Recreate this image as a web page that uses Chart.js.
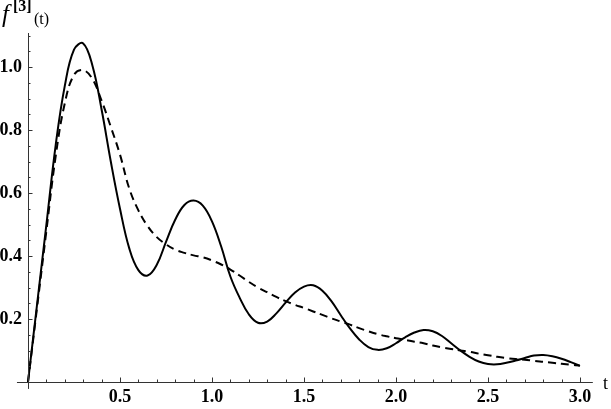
<!DOCTYPE html>
<html>
<head>
<meta charset="utf-8">
<script src="https://cdn.jsdelivr.net/npm/chart.js@4.4.1/dist/chart.umd.min.js"></script>
<style>
  body { margin: 0; background: #fff; }
  #wrap { position: relative; width: 611px; height: 409px; }
  .lbl { position: absolute; font-family: "Liberation Serif", "DejaVu Serif", serif; color: #000; line-height: 1; white-space: nowrap; }
</style>
</head>
<body>
<div id="wrap">
  <canvas id="plot" width="611" height="409"></canvas>
  <span class="lbl" style="left:2px; top:1px; font-size:25px; font-style:italic;">f</span>
  <span class="lbl" style="left:13px; top:-2px; font-size:16px; font-weight:bold;">[3]</span>
  <span class="lbl" style="left:34px; top:11px; font-size:16px;">(t)</span>
  <span class="lbl" style="left:603px; top:374px; font-size:18px;">t</span>
</div>
<script>
const tValues = [
  0.00, 0.05, 0.10, 0.15, 0.20, 0.25, 0.30, 0.35, 0.40, 0.45,
  0.50, 0.55, 0.60, 0.65, 0.70, 0.75, 0.80, 0.85, 0.90, 0.95,
  1.00, 1.05, 1.10, 1.15, 1.20, 1.25, 1.30, 1.35, 1.40, 1.45,
  1.50, 1.55, 1.60, 1.65, 1.70, 1.75, 1.80, 1.85, 1.90, 1.95,
  2.00, 2.05, 2.10, 2.15, 2.20, 2.25, 2.30, 2.35, 2.40, 2.45,
  2.50, 2.55, 2.60, 2.65, 2.70, 2.75, 2.80, 2.85, 2.90, 2.95,
  3.00
];

// solid curve
const solidValues = [
  0, 0.25, 0.50, 0.75, 0.94, 1.055, 1.075, 1.005, 0.865, 0.70,
  0.55, 0.425, 0.355, 0.338, 0.372, 0.445, 0.515, 0.562, 0.576, 0.56,
  0.51, 0.43, 0.335, 0.268, 0.215, 0.188, 0.192, 0.218, 0.252, 0.283,
  0.303, 0.307, 0.29, 0.256, 0.212, 0.17, 0.135, 0.111, 0.102, 0.107,
  0.123, 0.142, 0.157, 0.165, 0.161, 0.146, 0.123, 0.10, 0.08, 0.065,
  0.057, 0.056, 0.061, 0.068, 0.076, 0.084, 0.086, 0.082, 0.074, 0.063,
  0.051
];

// dashed curve
const dashedValues = [
  0, 0.24, 0.48, 0.715, 0.885, 0.975, 0.99, 0.962, 0.893, 0.81,
  0.722, 0.615, 0.545, 0.495, 0.46, 0.437, 0.42, 0.41, 0.402, 0.396,
  0.386, 0.373, 0.357, 0.338, 0.318, 0.30, 0.285, 0.27, 0.257, 0.245,
  0.235, 0.224, 0.213, 0.202, 0.192, 0.182, 0.171, 0.161, 0.152, 0.145,
  0.139, 0.134, 0.128, 0.123, 0.116, 0.11, 0.105, 0.10, 0.096, 0.09,
  0.085, 0.08, 0.076, 0.073, 0.071, 0.067, 0.064, 0.061, 0.058, 0.055,
  0.052
];

const xTicks = [0.5, 1.0, 1.5, 2.0, 2.5, 3.0];
const yTicks = [0.2, 0.4, 0.6, 0.8, 1.0];

const toPoints = (ys) => tValues.map((t, i) => ({ x: t, y: ys[i] }));
const tickFont = { family: '"Liberation Serif", serif', size: 18, weight: 'bold' };

// Mathematica style axes through the origin, ticks pointing inward
const axesPlugin = {
  id: 'originAxes',
  afterDraw(chart) {
    const { ctx, scales: { x, y } } = chart;
    const x0 = x.getPixelForValue(0);
    const y0 = y.getPixelForValue(0);
    ctx.save();
    ctx.strokeStyle = '#333';
    ctx.lineWidth = 1;
    ctx.beginPath();
    ctx.moveTo(x.getPixelForValue(-0.06), y0 + 0.5);
    ctx.lineTo(x.getPixelForValue(3.07), y0 + 0.5);
    ctx.moveTo(x0 + 0.5, y.getPixelForValue(-0.022));
    ctx.lineTo(x0 + 0.5, y.getPixelForValue(1.108));
    for (let i = 1; i <= 30; i++) {
      const px = Math.round(x.getPixelForValue(i / 10)) + 0.5;
      const len = i % 5 === 0 ? 4.5 : 2.5;
      ctx.moveTo(px, y0);
      ctx.lineTo(px, y0 - len);
    }
    for (let i = 1; i <= 22; i++) {
      const py = Math.round(y.getPixelForValue(i / 20)) + 0.5;
      const len = i % 4 === 0 ? 4.5 : 2.5;
      ctx.moveTo(x0, py);
      ctx.lineTo(x0 + len, py);
    }
    ctx.stroke();
    ctx.restore();
  }
};

new Chart(document.getElementById('plot'), {
  type: 'scatter',
  data: {
    datasets: [
      {
        data: toPoints(solidValues),
        showLine: true,
        borderColor: '#000',
        borderWidth: 2,
        pointRadius: 0,
        tension: 0.4,
        clip: false
      },
      {
        data: toPoints(dashedValues),
        showLine: true,
        borderColor: '#000',
        borderWidth: 2,
        borderDash: [8, 5],
        pointRadius: 0,
        tension: 0.4,
        clip: false
      }
    ]
  },
  options: {
    responsive: false,
    animation: false,
    layout: { padding: { left: 0, top: 33, right: 20, bottom: 0 } },
    plugins: { legend: { display: false }, tooltip: { enabled: false } },
    scales: {
      x: {
        type: 'linear',
        min: 0,
        max: 3.06,
        grid: { display: false, drawTicks: false },
        border: { display: false },
        afterBuildTicks: (s) => { s.ticks = xTicks.map(v => ({ value: v })); },
        afterFit: (s) => { s.height = 27; },
        ticks: {
          autoSkip: false,
          maxRotation: 0,
          padding: 5,
          color: '#000',
          font: tickFont,
          callback: (v) => Number(v).toFixed(1)
        }
      },
      y: {
        type: 'linear',
        min: 0,
        max: 1.108,
        grid: { display: false, drawTicks: false },
        border: { display: false },
        afterBuildTicks: (s) => { s.ticks = yTicks.map(v => ({ value: v })); },
        afterFit: (s) => { s.width = 28; },
        ticks: {
          autoSkip: false,
          padding: 6,
          color: '#000',
          font: tickFont,
          callback: (v) => Number(v).toFixed(1)
        }
      }
    }
  },
  plugins: [axesPlugin]
});
</script>
</body>
</html>
